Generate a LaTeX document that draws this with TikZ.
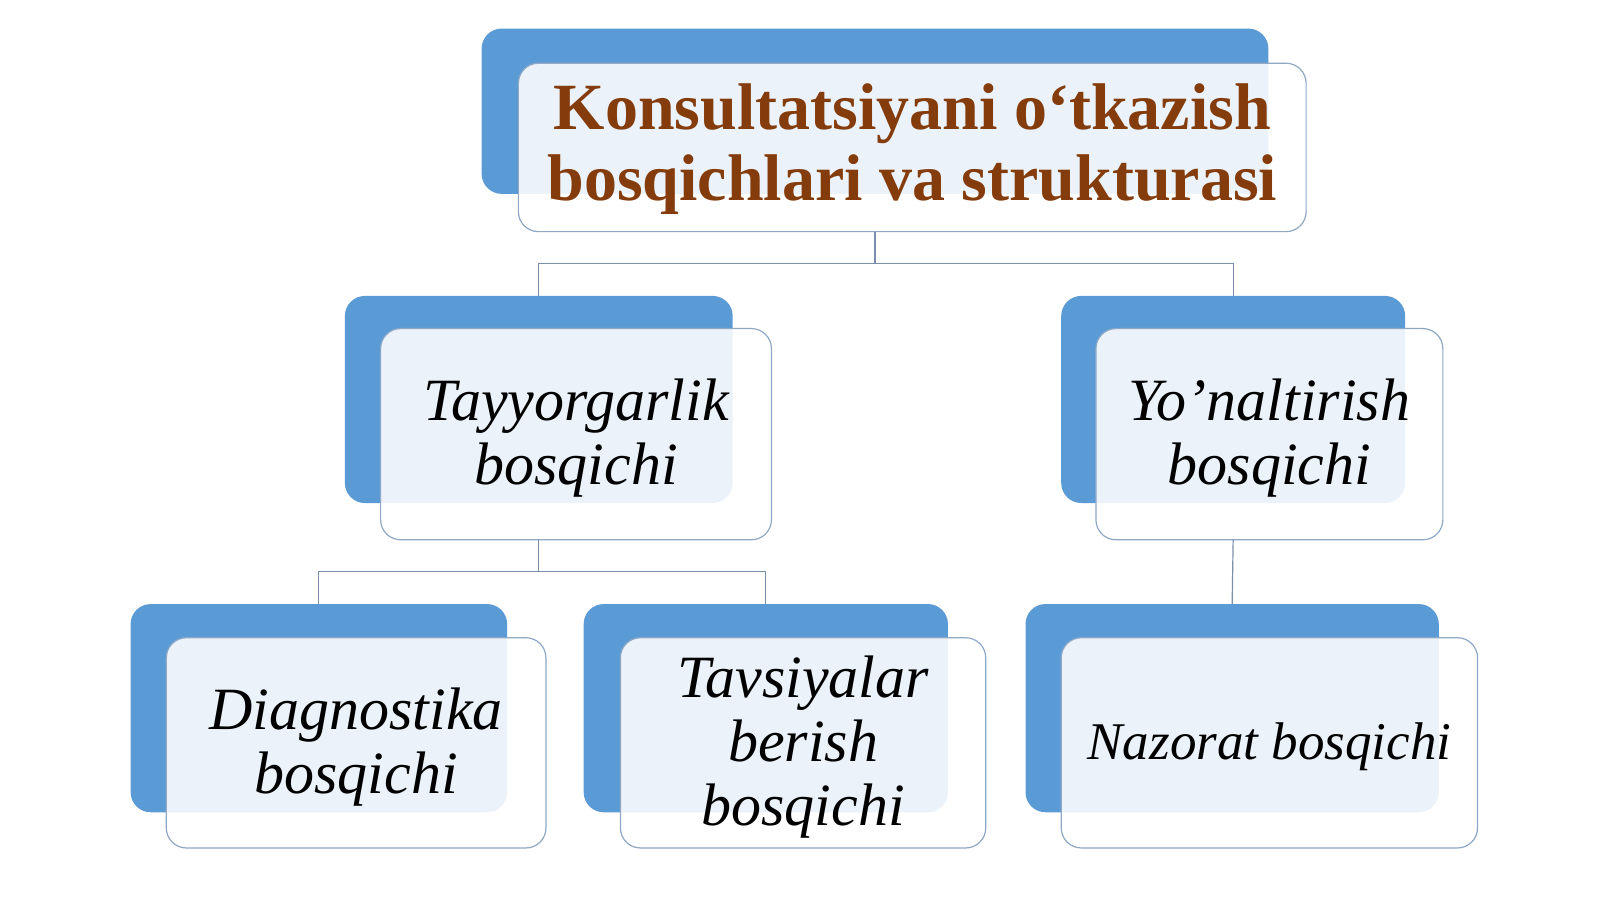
\documentclass[tikz,border=0pt]{standalone}
\usepackage{fontspec}
\setmainfont{Liberation Serif}
\definecolor{backblue}{HTML}{5B9BD5}
\definecolor{frameblue}{HTML}{8FA8C6}
\definecolor{linecol}{HTML}{7A90AA}
\definecolor{titlebrown}{HTML}{843C0C}
\newcommand\lowtext[2]{\raisebox{#1}[\height][\depth]{\begin{tabular}{@{}c@{}}#2\end{tabular}}}
\tikzset{
  backbox/.style={fill=backblue, rounded corners=20pt, inner sep=0pt, outer sep=0pt},
  frontbox/.style={draw=frameblue, line width=1.2pt, fill=white, fill opacity=0.88, text opacity=1,
    rounded corners=20pt, inner sep=0pt, outer sep=0pt, align=center},
  conn/.style={draw=linecol, line width=1.2pt},
  stagetext/.style={font=\fontsize{60}{64}\selectfont\itshape},
}
\begin{document}
\begin{tikzpicture}[x=1.0204pt,y=-1.0204pt]
\useasboundingbox[fill=white] (0,0) rectangle (1568,881);
% top
\node[backbox, minimum width=786.7pt, minimum height=165.3pt] (topB) at (857.5,109) {};
\node[frontbox, minimum width=787.7pt, minimum height=168.4pt, text=titlebrown,
  font=\fontsize{66}{71}\selectfont\bfseries] (top) at (894,144.5)
  {\lowtext{-3pt}{Konsultatsiyani o‘tkazish\\bosqichlari va strukturasi}};
% middle row
\node[backbox, minimum width=387.8pt, minimum height=207.1pt] (tayB) at (528,391.5) {};
\node[frontbox, stagetext, minimum width=390.8pt, minimum height=211.2pt] (tay) at (564.5,425.5)
  {\lowtext{-6pt}{Tayyorgarlik\\bosqichi}};
\node[backbox, minimum width=343.9pt, minimum height=207.1pt] (yoB) at (1208.5,391.5) {};
\node[frontbox, stagetext, minimum width=346.9pt, minimum height=211.2pt] (yo) at (1244,425.5)
  {\lowtext{-6pt}{Yo’naltirish\\bosqichi}};
% bottom row
\node[backbox, minimum width=376.5pt, minimum height=208.2pt] (diaB) at (312.5,694) {};
\node[frontbox, stagetext, minimum width=379.6pt, minimum height=210.2pt] (dia) at (349,728)
  {\lowtext{-6pt}{Diagnostika\\bosqichi}};
\node[backbox, minimum width=364.3pt, minimum height=208.2pt] (tavB) at (750.5,694) {};
\node[frontbox, stagetext, minimum width=365.3pt, minimum height=210.2pt] (tav) at (787,728)
  {\lowtext{-6pt}{Tavsiyalar\\berish\\bosqichi}};
\node[backbox, minimum width=413.3pt, minimum height=208.2pt] (nazB) at (1207.5,694) {};
\node[frontbox, font=\fontsize{53}{60}\selectfont\itshape, minimum width=416.3pt, minimum height=210.2pt] (naz) at (1244,728)
  {\lowtext{-5pt}{Nazorat bosqichi}};
% connectors
\coordinate (bus1) at (857.5,258);
\coordinate (bus2) at (528,560);
\path[conn] (topB.center |- top.south) -- (bus1);
\path[conn] (tayB.north) |- (bus1) -| (yoB.north);
\path[conn] (tayB.center |- tay.south) -- (bus2);
\path[conn] (diaB.north) |- (bus2) -| (tavB.north);
\path[conn] (yoB.center |- yo.south) -- (nazB.north);
\end{tikzpicture}
\end{document}
